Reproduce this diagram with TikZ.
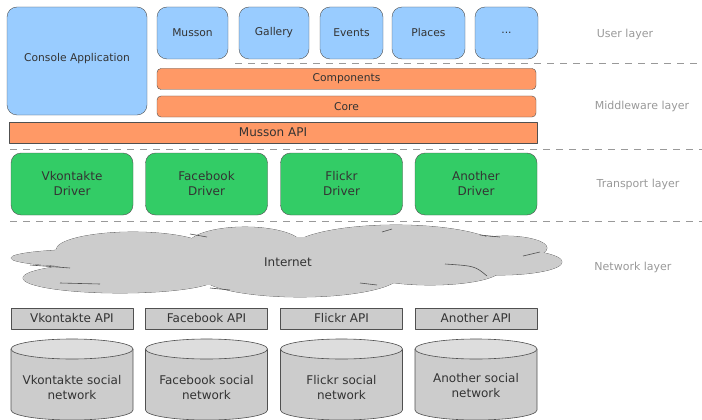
\documentclass[tikz,border=0pt]{standalone}
\usepackage{fontspec}
\setmainfont{DejaVu Sans}
\definecolor{userblue}{HTML}{99CCFF}
\definecolor{midorange}{HTML}{FF9966}
\definecolor{drivergreen}{HTML}{33CC66}
\definecolor{netgray}{HTML}{CCCCCC}
\definecolor{topgray}{HTML}{DDDDDD}
\definecolor{edgegray}{HTML}{505050}
\definecolor{textgray}{HTML}{333333}
\definecolor{layergray}{HTML}{999999}
\newcommand{\smalltext}{\fontsize{10.7}{14}\selectfont}
\newcommand{\bigtext}{\fontsize{12}{15}\selectfont}
\begin{document}
\begin{tikzpicture}[x=1pt, y=-1pt, every node/.style={text=textgray, outer sep=0pt, inner sep=0pt, align=center}, line join=round,
	userbox/.style={draw=edgegray, fill=userblue, rounded corners=10pt, minimum height=52pt, font=\smalltext},
	midbox/.style={draw=edgegray, fill=midorange, rounded corners=4pt, minimum height=21pt, font=\smalltext},
	driverbox/.style={draw=edgegray, fill=drivergreen, rounded corners=10pt, minimum width=122pt, minimum height=62pt, font=\bigtext},
	apibox/.style={draw=edgegray, fill=netgray, minimum width=122pt, minimum height=21pt, font=\bigtext},
	dbline/.style={draw=edgegray, line width=0.6pt},
	layerlabel/.style={text=layergray, font=\fontsize{11}{13}\selectfont},
	layersep/.style={draw=layergray, dash pattern=on 7pt off 6pt, line width=0.8pt},
	cloudline/.style={draw=edgegray, line width=0.6pt}]
	
	\useasboundingbox (0, 0) rectangle (702, 420);
	
	% Separators
	\draw[layersep] (235, 63) -- (702, 63);
	\draw[layersep] (10, 149) -- (702, 149);
	\draw[layersep] (10, 221) -- (702, 221);
	
	% User layer
	\node[userbox, minimum width=140pt, minimum height=108pt, text depth=7pt] (console) at (77, 61) {Console Application};
	\node[userbox, minimum width=71pt] (musson) at (192.5, 33) {Musson};
	\node[userbox, minimum width=70pt] (gallery) at (274, 33) {Gallery};
	\node[userbox, minimum width=63pt] (events) at (351.5, 33) {Events};
	\node[userbox, minimum width=73pt] (places) at (428.5, 33) {Places};
	\node[userbox, minimum width=63pt] (more) at (506.5, 33) {...};
	
	% Middleware layer
	\node[midbox, minimum width=379pt] (components) at (346.5, 79) {Components};
	\node[midbox, minimum width=379pt] (core) at (346.5, 106.5) {Core};
	\node[midbox, rounded corners=0pt, minimum width=528pt, font=\bigtext] (mussonapi) at (273, 132.5) {Musson API};
	
	% Transport layer
	\node[driverbox] (vkdriver) at (72, 184) {Vkontakte\\Driver};
	\node[driverbox] (fbdriver) at (206.5, 184) {Facebook\\Driver};
	\node[driverbox] (flickrdriver) at (341.5, 184) {Flickr\\Driver};
	\node[driverbox] (otherdriver) at (476, 184) {Another\\Driver};
	
	% Network layer
	\foreach \cx/\cy/\rx/\ry in {100/258/89/9, 133/250/77/18, 245/245/57/18, 396/250/106/25, 505/248/42/12, 500/262/62/13, 430/270/70/15, 300/275/100/22, 120/278/97/15}
		\draw[cloudline, fill=netgray] (\cx, \cy) ellipse [x radius=\rx, y radius=\ry];
	\foreach \cx/\cy/\rx/\ry in {100/258/89/9, 133/250/77/18, 245/245/57/18, 396/250/106/25, 505/248/42/12, 500/262/62/13, 430/270/70/15, 300/275/100/22, 120/278/97/15, 290/262/200/25}
		\fill[netgray] (\cx, \cy) ellipse [x radius=\rx, y radius=\ry];
	\draw[cloudline] (70, 268) .. controls (50, 267) .. (30, 265);
	\draw[cloudline] (60, 283) -- (100, 284);
	\draw[cloudline] (190, 234) -- (207, 237);
	\draw[cloudline] (382, 232) -- (392, 229);
	\draw[cloudline] (480, 235) -- (500, 237);
	\draw[cloudline] (523, 256) -- (540, 252);
	\draw[cloudline] (445, 264) .. controls (475, 266) .. (487, 276);
	\draw[cloudline] (360, 283) -- (377, 285);
	\draw[cloudline] (210, 288) -- (230, 290);
	\node[font=\bigtext] (internet) at (288, 262) {Internet};
	
	\node[apibox] (vkapi) at (72, 318.5) {Vkontakte API};
	\node[apibox] (fbapi) at (206.5, 318.5) {Facebook API};
	\node[apibox] (flickrapi) at (341.5, 318.5) {Flickr API};
	\node[apibox] (otherapi) at (476, 318.5) {Another API};
	
	% social network databases
	\foreach \cx in {72, 206.5, 341.5, 476} {
		\draw[dbline, fill=netgray] (\cx-61, 349) -- (\cx-61, 410) arc[start angle=180, end angle=0, x radius=61, y radius=10] -- (\cx+61, 349);
		\draw[dbline, fill=topgray] (\cx, 349) ellipse [x radius=61, y radius=10];
	}
	\node[font=\bigtext] (vknet) at (72, 388) {Vkontakte social\\network};
	\node[font=\bigtext] (fbnet) at (206.5, 388) {Facebook social\\network};
	\node[font=\bigtext] (flickrnet) at (341.5, 388) {Flickr social\\network};
	\node[font=\bigtext] (othernet) at (476, 386) {Another social\\network};
	
	% Layer names
	\node[layerlabel] (userlayer) at (625, 34) {User layer};
	\node[layerlabel] (midlayer) at (642, 106) {Middleware layer};
	\node[layerlabel] (translayer) at (638, 184) {Transport layer};
	\node[layerlabel] (netlayer) at (633, 267) {Network layer};
	
\end{tikzpicture}
\end{document}
